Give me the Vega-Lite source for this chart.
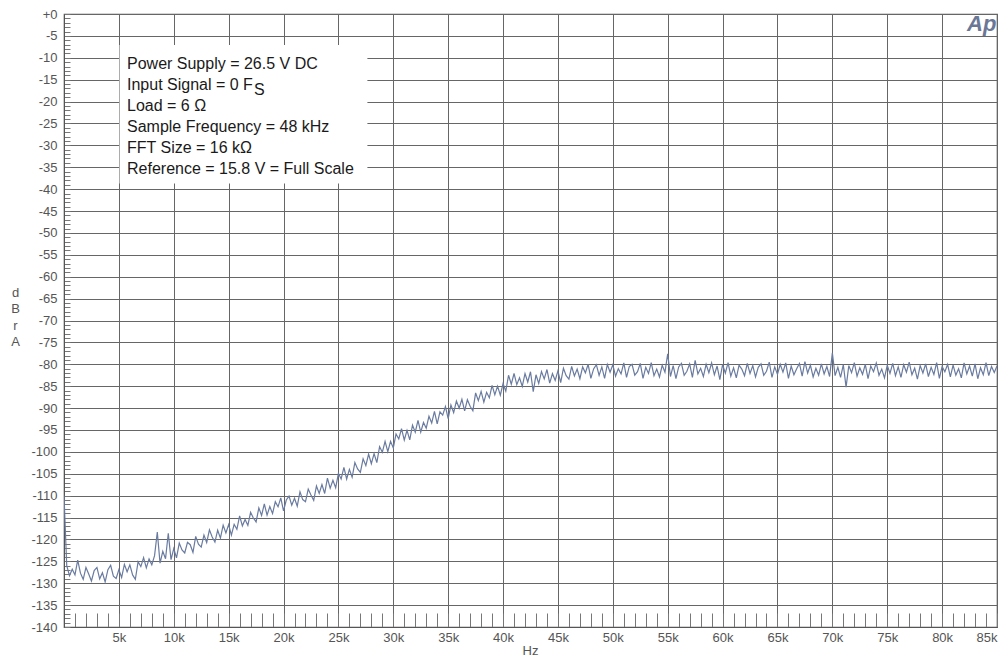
{
  "$schema": "https://vega.github.io/schema/vega-lite/v6.json",
  "width": 933,
  "height": 613,
  "autosize": {"type": "none"},
  "padding": {"left": 64, "top": 14, "right": 2, "bottom": 33},
  "background": "white",
  "config": {
    "view": {"stroke": "#555", "strokeWidth": 1.2},
    "font": "Liberation Sans"
  },
  "data": {"values": [
    {"f":0,"v":-110},{"f":250,"v":-126.0},{"f":500,"v":-128.3},{"f":750,"v":-126.8},
    {"f":1000,"v":-128.1},{"f":1250,"v":-124.7},{"f":1500,"v":-127.7},{"f":1750,"v":-129.1},
    {"f":2000,"v":-126.4},{"f":2250,"v":-127.9},{"f":2500,"v":-129.5},{"f":2750,"v":-127.1},
    {"f":3000,"v":-126.4},{"f":3250,"v":-129.0},{"f":3500,"v":-127.6},{"f":3750,"v":-129.7},
    {"f":4000,"v":-126.9},{"f":4250,"v":-125.9},{"f":4500,"v":-128.4},{"f":4750,"v":-128.9},
    {"f":5000,"v":-126.9},{"f":5250,"v":-128.7},{"f":5500,"v":-125.7},{"f":5750,"v":-127.4},
    {"f":6000,"v":-125.8},{"f":6250,"v":-128.1},{"f":6500,"v":-129.1},{"f":6750,"v":-125.1},
    {"f":7000,"v":-126.2},{"f":7250,"v":-124.15},{"f":7500,"v":-126.5},{"f":7750,"v":-124.45},
    {"f":8000,"v":-125.8},{"f":8250,"v":-123.7},{"f":8500,"v":-118.3},{"f":8750,"v":-125.4},
    {"f":9000,"v":-122.7},{"f":9250,"v":-124.4},{"f":9500,"v":-118.6},{"f":9750,"v":-124.6},
    {"f":10000,"v":-122.1},{"f":10250,"v":-124.2},{"f":10500,"v":-120.85},{"f":10750,"v":-122.4},
    {"f":11000,"v":-123.1},{"f":11250,"v":-120.65},{"f":11500,"v":-121.2},{"f":11750,"v":-122.95},
    {"f":12000,"v":-119.3},{"f":12250,"v":-121.1},{"f":12500,"v":-121.75},{"f":12750,"v":-119.0},
    {"f":13000,"v":-120.7},{"f":13250,"v":-117.8},{"f":13500,"v":-119.45},{"f":13750,"v":-120.6},
    {"f":14000,"v":-117.9},{"f":14250,"v":-119.7},{"f":14500,"v":-116.75},{"f":14750,"v":-118.5},
    {"f":15000,"v":-116.6},{"f":15250,"v":-119.0},{"f":15500,"v":-116.55},{"f":15750,"v":-117.7},
    {"f":16000,"v":-114.6},{"f":16250,"v":-116.9},{"f":16500,"v":-115.45},{"f":16750,"v":-116.8},
    {"f":17000,"v":-113.8},{"f":17250,"v":-115.1},{"f":17500,"v":-116.0},{"f":17750,"v":-112.8},
    {"f":18000,"v":-114.5},{"f":18250,"v":-111.9},{"f":18500,"v":-114.45},{"f":18750,"v":-112.5},
    {"f":19000,"v":-114.1},{"f":19250,"v":-111.4},{"f":19500,"v":-112.55},{"f":19750,"v":-110.5},
    {"f":20000,"v":-113.5},{"f":20250,"v":-111.0},{"f":20500,"v":-110.1},{"f":20750,"v":-112.2},
    {"f":21000,"v":-110.6},{"f":21250,"v":-112.4},{"f":21500,"v":-109.1},{"f":21750,"v":-110.9},
    {"f":22000,"v":-111.4},{"f":22250,"v":-108.5},{"f":22500,"v":-109.85},{"f":22750,"v":-111.1},
    {"f":23000,"v":-107.8},{"f":23250,"v":-109.5},{"f":23500,"v":-107.45},{"f":23750,"v":-109.5},
    {"f":24000,"v":-106.0},{"f":24250,"v":-108.3},{"f":24500,"v":-106.5},{"f":24750,"v":-108.2},
    {"f":25000,"v":-104.9},{"f":25250,"v":-106.2},{"f":25500,"v":-103.55},{"f":25750,"v":-106.2},
    {"f":26000,"v":-104.0},{"f":26250,"v":-105.8},{"f":26500,"v":-102.45},{"f":26750,"v":-103.9},
    {"f":27000,"v":-104.7},{"f":27250,"v":-101.6},{"f":27500,"v":-103.15},{"f":27750,"v":-100.5},
    {"f":28000,"v":-102.7},{"f":28250,"v":-100.4},{"f":28500,"v":-102.45},{"f":28750,"v":-98.8},
    {"f":29000,"v":-100.1},{"f":29250,"v":-97.6},{"f":29500,"v":-99.95},{"f":29750,"v":-97.6},
    {"f":30000,"v":-99.1},{"f":30250,"v":-95.9},{"f":30500,"v":-97.05},{"f":30750,"v":-94.7},
    {"f":31000,"v":-97.3},{"f":31250,"v":-95.1},{"f":31500,"v":-97.25},{"f":31750,"v":-93.9},
    {"f":32000,"v":-95.5},{"f":32250,"v":-92.8},{"f":32500,"v":-95.5},{"f":32750,"v":-93.3},
    {"f":33000,"v":-94.6},{"f":33250,"v":-91.85},{"f":33500,"v":-93.4},{"f":33750,"v":-90.75},
    {"f":34000,"v":-93.6},{"f":34250,"v":-90.85},{"f":34500,"v":-91.6},{"f":34750,"v":-89.65},
    {"f":35000,"v":-92.4},{"f":35250,"v":-89.3},{"f":35500,"v":-91.05},{"f":35750,"v":-88.4},
    {"f":36000,"v":-90.0},{"f":36250,"v":-88.0},{"f":36500,"v":-90.65},{"f":36750,"v":-88.1},
    {"f":37000,"v":-89.6},{"f":37250,"v":-90.6},{"f":37500,"v":-86.55},{"f":37750,"v":-88.3},
    {"f":38000,"v":-86.2},{"f":38250,"v":-88.65},{"f":38500,"v":-86.4},{"f":38750,"v":-87.65},
    {"f":39000,"v":-84.8},{"f":39250,"v":-86.95},{"f":39500,"v":-85.0},{"f":39750,"v":-87.05},
    {"f":40000,"v":-84.4},{"f":40250,"v":-86.15},{"f":40500,"v":-82.5},{"f":40750,"v":-84.55},
    {"f":41000,"v":-82.1},{"f":41250,"v":-84.65},{"f":41500,"v":-83.1},{"f":41750,"v":-85.05},
    {"f":42000,"v":-82.1},{"f":42250,"v":-84.05},{"f":42500,"v":-81.7},{"f":42750,"v":-86.25},
    {"f":43000,"v":-82.4},{"f":43250,"v":-84.4},{"f":43500,"v":-81.65},{"f":43750,"v":-83.35},
    {"f":44000,"v":-81.2},{"f":44250,"v":-84.3},{"f":44500,"v":-82.15},{"f":44750,"v":-83.7},
    {"f":45000,"v":-81.5},{"f":45250,"v":-84.2},{"f":45500,"v":-80.9},{"f":45750,"v":-82.6},
    {"f":46000,"v":-83.4},{"f":46250,"v":-80.5},{"f":46500,"v":-82.65},{"f":46750,"v":-81.1},
    {"f":47000,"v":-83.3},{"f":47250,"v":-80.6},{"f":47500,"v":-81.95},{"f":47750,"v":-80.0},
    {"f":48000,"v":-83.2},{"f":48250,"v":-81.05},{"f":48500,"v":-80.1},{"f":48750,"v":-82.55},
    {"f":49000,"v":-80.6},{"f":49250,"v":-83.2},{"f":49500,"v":-80.05},{"f":49750,"v":-81.8},
    {"f":50000,"v":-80.1},{"f":50250,"v":-82.7},{"f":50500,"v":-81.0},{"f":50750,"v":-82.2},
    {"f":51000,"v":-79.7},{"f":51250,"v":-83.0},{"f":51500,"v":-80.5},{"f":51750,"v":-80.0},
    {"f":52000,"v":-82.5},{"f":52250,"v":-81.7},{"f":52500,"v":-79.8},{"f":52750,"v":-83.2},
    {"f":53000,"v":-80.7},{"f":53250,"v":-82.1},{"f":53500,"v":-79.6},{"f":53750,"v":-82.6},
    {"f":54000,"v":-81.1},{"f":54250,"v":-82.9},{"f":54500,"v":-80.2},{"f":54750,"v":-81.8},
    {"f":55000,"v":-77.6},{"f":55250,"v":-82.8},{"f":55500,"v":-80.3},{"f":55750,"v":-83.3},
    {"f":56000,"v":-80.6},{"f":56250,"v":-79.8},{"f":56500,"v":-82.5},{"f":56750,"v":-81.6},
    {"f":57000,"v":-79.9},{"f":57250,"v":-83.0},{"f":57500,"v":-79.1},{"f":57750,"v":-82.2},
    {"f":58000,"v":-80.9},{"f":58250,"v":-82.8},{"f":58500,"v":-80.0},{"f":58750,"v":-81.9},
    {"f":59000,"v":-79.7},{"f":59250,"v":-82.4},{"f":59500,"v":-80.4},{"f":59750,"v":-83.5},
    {"f":60000,"v":-80.1},{"f":60250,"v":-82.0},{"f":60500,"v":-79.6},{"f":60750,"v":-82.7},
    {"f":61000,"v":-80.8},{"f":61250,"v":-83.1},{"f":61500,"v":-80.2},{"f":61750,"v":-81.1},
    {"f":62000,"v":-82.6},{"f":62250,"v":-79.8},{"f":62500,"v":-82.1},{"f":62750,"v":-80.3},
    {"f":63000,"v":-82.9},{"f":63250,"v":-80.7},{"f":63500,"v":-79.9},{"f":63750,"v":-82.5},
    {"f":64000,"v":-81.6},{"f":64250,"v":-79.5},{"f":64500,"v":-83.0},{"f":64750,"v":-80.6},
    {"f":65000,"v":-82.3},{"f":65250,"v":-80.0},{"f":65500,"v":-81.8},{"f":65750,"v":-79.7},
    {"f":66000,"v":-83.2},{"f":66250,"v":-80.4},{"f":66500,"v":-82.4},{"f":66750,"v":-81.0},
    {"f":67000,"v":-79.8},{"f":67250,"v":-82.7},{"f":67500,"v":-79.4},{"f":67750,"v":-82.0},
    {"f":68000,"v":-80.2},{"f":68250,"v":-82.9},{"f":68500,"v":-80.9},{"f":68750,"v":-82.5},
    {"f":69000,"v":-79.9},{"f":69250,"v":-82.2},{"f":69500,"v":-80.5},{"f":69750,"v":-82.8},
    {"f":70000,"v":-77.4},{"f":70250,"v":-82.6},{"f":70500,"v":-80.7},{"f":70750,"v":-83.0},
    {"f":71000,"v":-80.1},{"f":71250,"v":-85.2},{"f":71500,"v":-80.3},{"f":71750,"v":-81.9},
    {"f":72000,"v":-79.6},{"f":72250,"v":-82.7},{"f":72500,"v":-80.8},{"f":72750,"v":-82.3},
    {"f":73000,"v":-80.0},{"f":73250,"v":-83.3},{"f":73500,"v":-80.4},{"f":73750,"v":-81.7},
    {"f":74000,"v":-79.7},{"f":74250,"v":-82.5},{"f":74500,"v":-81.1},{"f":74750,"v":-83.1},
    {"f":75000,"v":-80.2},{"f":75250,"v":-82.1},{"f":75500,"v":-79.8},{"f":75750,"v":-82.6},
    {"f":76000,"v":-80.6},{"f":76250,"v":-83.0},{"f":76500,"v":-80.1},{"f":76750,"v":-81.8},
    {"f":77000,"v":-79.5},{"f":77250,"v":-82.4},{"f":77500,"v":-80.9},{"f":77750,"v":-83.4},
    {"f":78000,"v":-80.3},{"f":78250,"v":-82.0},{"f":78500,"v":-79.9},{"f":78750,"v":-82.8},
    {"f":79000,"v":-80.7},{"f":79250,"v":-82.3},{"f":79500,"v":-79.6},{"f":79750,"v":-83.2},
    {"f":80000,"v":-80.5},{"f":80250,"v":-81.7},{"f":80500,"v":-80.0},{"f":80750,"v":-82.9},
    {"f":81000,"v":-80.2},{"f":81250,"v":-82.5},{"f":81500,"v":-81.0},{"f":81750,"v":-83.1},
    {"f":82000,"v":-79.7},{"f":82250,"v":-82.2},{"f":82500,"v":-80.4},{"f":82750,"v":-82.7},
    {"f":83000,"v":-79.9},{"f":83250,"v":-83.3},{"f":83500,"v":-80.8},{"f":83750,"v":-82.4},
    {"f":84000,"v":-79.6},{"f":84250,"v":-82.6},{"f":84500,"v":-80.5},{"f":84750,"v":-81.9},
    {"f":85000,"v":-80.4}
  ]},
  "encoding": {
    "x": {
      "field": "f", "type": "quantitative",
      "scale": {"domain": [0, 85000], "nice": false, "zero": false},
      "axis": {
        "title": "Hz",
        "tickCount": 85,
        "tickSize": -14,
        "tickColor": "#777",
        "tickWidth": 1,
        "labelExpr": "datum.value % 5000 === 0 && datum.value > 0 ? (datum.value / 1000) + 'k' : ''",
        "labelPadding": 18,
        "labelFont": "Liberation Sans",
        "labelFontSize": 13,
        "labelColor": "#555",
        "labelOverlap": false,
        "labelFlush": true,
        "labelBound": false,
        "grid": true,
        "gridColor": "#666",
        "gridWidth": 1,
        "gridOpacity": {"condition": {"test": "datum.value % 5000 === 0", "value": 1}, "value": 0},
        "domainColor": "#555",
        "titleFont": "Liberation Sans",
        "titleFontSize": 13,
        "titleFontWeight": "normal",
        "titleColor": "#555",
        "titleX": 466,
        "titleY": 23,
        "titleAlign": "center",
        "titleBaseline": "middle"
      }
    },
    "y": {
      "field": "v", "type": "quantitative",
      "scale": {"domain": [-140, 0], "nice": false, "zero": false},
      "axis": {
        "title": ["d", "B", "r", "A"],
        "tickCount": 140,
        "tickSize": -6,
        "tickColor": "#777",
        "tickWidth": 1,
        "labelExpr": "datum.value % 5 === 0 ? (datum.value === 0 ? '+0' : '' + datum.value) : ''",
        "labelPadding": 13,
        "labelFont": "Liberation Sans",
        "labelFontSize": 13,
        "labelColor": "#555",
        "labelOverlap": false,
        "labelFlush": false,
        "labelBound": false,
        "grid": true,
        "gridColor": "#666",
        "gridWidth": 1,
        "gridOpacity": {"condition": {"test": "datum.value % 5 === 0", "value": 1}, "value": 0},
        "domainColor": "#555",
        "titleFont": "Liberation Sans",
        "titleFontSize": 13,
        "titleFontWeight": "normal",
        "titleColor": "#555",
        "titleAngle": 0,
        "titleX": -49,
        "titleY": 272,
        "titleAlign": "center",
        "titleBaseline": "top",
        "titleLineHeight": 16.5
      }
    }
  },
  "layer": [
    {
      "data": {"values": [{"f": 5060, "f2": 27640, "v": -7.1, "v2": -38.7}]},
      "mark": {"type": "rect", "fill": "white", "stroke": null},
      "encoding": {
        "x2": {"field": "f2"},
        "y2": {"field": "v2"}
      }
    },
    {
      "mark": {"type": "line", "color": "#6a7ba0", "strokeWidth": 1.2, "clip": true}
    },
    {
      "data": {"values": [
        {"f": 5740, "v": -12.63, "label": "Power Supply = 26.5 V DC"},
        {"f": 5740, "v": -17.42, "label": "Input Signal = 0 F"},
        {"f": 17310, "v": -18.5, "label": "S"},
        {"f": 5740, "v": -22.22, "label": "Load = 6 Ω"},
        {"f": 5740, "v": -27.02, "label": "Sample Frequency = 48 kHz"},
        {"f": 5740, "v": -31.81, "label": "FFT Size = 16 kΩ"},
        {"f": 5740, "v": -36.61, "label": "Reference = 15.8 V = Full Scale"}
      ]},
      "mark": {"type": "text", "align": "left", "baseline": "alphabetic", "font": "Liberation Sans", "fontSize": 16, "color": "#1a1a1a"},
      "encoding": {"text": {"field": "label"}}
    },
    {
      "data": {"values": [{"f": 84950, "v": -3.8, "label": "Ap"}]},
      "mark": {"type": "text", "align": "right", "baseline": "alphabetic", "font": "Liberation Sans", "fontSize": 22, "fontWeight": "bold", "fontStyle": "italic", "color": "#6b7796"},
      "encoding": {"text": {"field": "label"}}
    }
  ]
}
